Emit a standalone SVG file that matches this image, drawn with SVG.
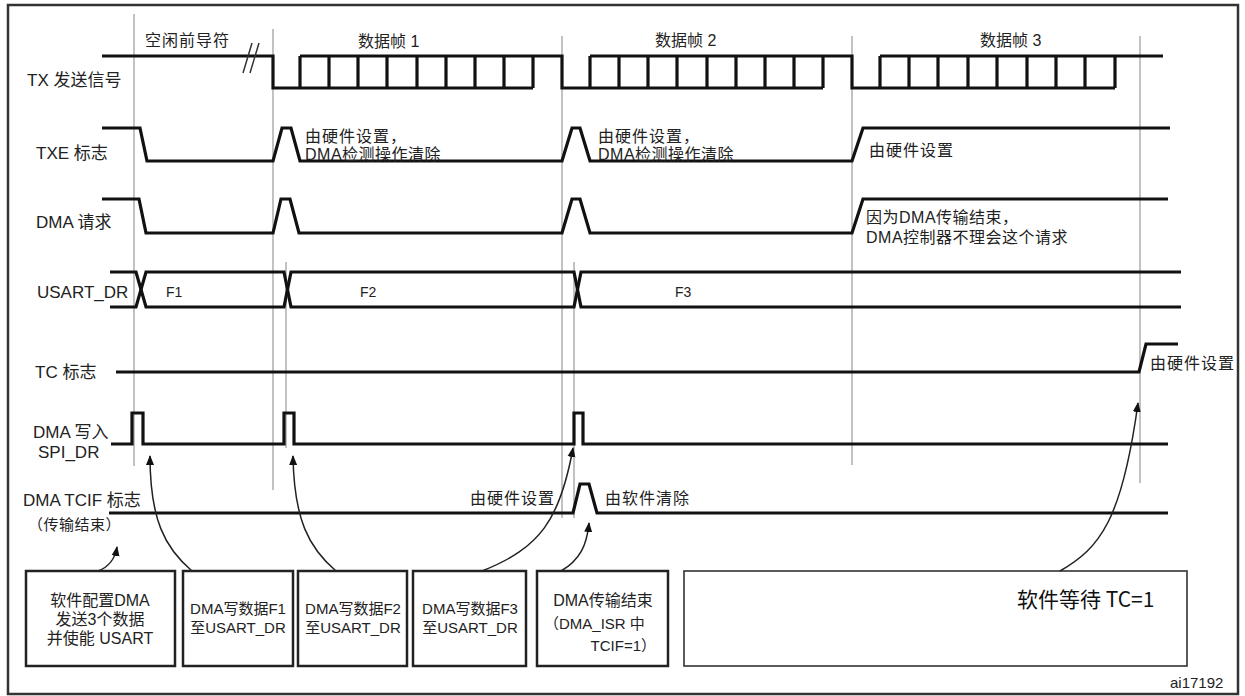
<svg xmlns="http://www.w3.org/2000/svg" width="1245" height="696" viewBox="0 0 1245 696">
<defs>
<style>
text{font-family:"Liberation Sans","Noto Sans CJK SC",sans-serif;fill:#222;font-size:16px}
.lbl{font-size:17px}
.sm{font-size:15px}
.f{font-size:14px}
.big{font-family:"Noto Sans CJK SC",sans-serif;font-size:21px;fill:#111}
.sig{fill:none;stroke:#111;stroke-width:3.2;stroke-linejoin:miter}
.grid{stroke:#999;stroke-width:1.2}
.box{fill:none;stroke:#222;stroke-width:2.5}
.arr{fill:none;stroke:#222;stroke-width:1.5;marker-end:url(#ah)}
</style>
<marker id="ah" markerWidth="10" markerHeight="10" refX="9" refY="5" orient="auto" markerUnits="userSpaceOnUse">
<path d="M0,1 L10,5 L0,9 Z" fill="#111"/>
</marker>
</defs>
<rect x="0" y="0" width="1245" height="696" fill="#fff"/>
<rect x="8" y="5" width="1230" height="689" fill="none" stroke="#333" stroke-width="2.5"/>

<g id="gridlines">
<line class="grid" x1="134" y1="14" x2="134" y2="466"/>
<line class="grid" x1="273" y1="29" x2="273" y2="490"/>
<line class="grid" x1="286" y1="262" x2="286" y2="448"/>
<line class="grid" x1="562" y1="36" x2="562" y2="518"/>
<line class="grid" x1="574" y1="262" x2="574" y2="518"/>
<line class="grid" x1="852" y1="36" x2="852" y2="465"/>
<line class="grid" x1="1140" y1="36" x2="1140" y2="483"/>
</g>

<g id="headers">
<text x="145" y="46" letter-spacing="1">空闲前导符</text>
<text x="358" y="47">数据帧 1</text>
<text x="655" y="46">数据帧 2</text>
<text x="980" y="46">数据帧 3</text>
</g>

<g id="tx">
<text class="lbl" x="27" y="86">TX 发送信号</text>
<path class="sig" d="M102,56 H273 V88 H533 M300,56 H562 V88 H823 M590,56 H852 V88 H1115 M880,56 H1163"/>
<path class="sig" d="M300,56 V88 M329,56 V88 M358,56 V88 M387,56 V88 M417,56 V88 M446,56 V88 M475,56 V88 M504,56 V88 M533,56 V88
M590,56 V88 M619,56 V88 M648,56 V88 M677,56 V88 M707,56 V88 M736,56 V88 M765,56 V88 M794,56 V88 M823,56 V88
M880,56 V88 M909,56 V88 M938,56 V88 M968,56 V88 M997,56 V88 M1027,56 V88 M1056,56 V88 M1085,56 V88 M1115,56 V88"/>
<path d="M243,73 L252,43 M250,73 L259,43" stroke="#333" stroke-width="1.5" fill="none"/>
</g>

<g id="txe">
<text class="lbl" x="36" y="159">TXE 标志</text>
<path class="sig" d="M102,128 H140 L147,161 H273 L282,128 H291 L300,161 H562 L572,128 H580 L590,161 H852 L863,128 H1170"/>
<text x="305" y="142" letter-spacing="1">由硬件设置，</text>
<text x="305" y="160" letter-spacing="0.5">DMA检测操作清除</text>
<text x="598" y="142" letter-spacing="1">由硬件设置，</text>
<text x="598" y="160" letter-spacing="0.5">DMA检测操作清除</text>
<text x="869" y="156" letter-spacing="1">由硬件设置</text>
</g>

<g id="dmareq">
<text class="lbl" x="36" y="228">DMA 请求</text>
<path class="sig" d="M102,199 H139 L146,233 H273 L281,199 H290 L299,233 H562 L572,199 H580 L590,233 H852 L863,199 H1168"/>
<text x="866" y="223" letter-spacing="0.5">因为DMA传输结束，</text>
<text x="866" y="243" letter-spacing="0.5">DMA控制器不理会这个请求</text>
</g>

<g id="usartdr">
<text class="lbl" x="37" y="298">USART_DR</text>
<path class="sig" d="M110,272 H136 L146,307 H284 L291,272 H574 L581,307 H1181"/>
<path class="sig" d="M110,307 H136 L146,272 H284 L291,307 H574 L581,272 H1181"/>
<text class="f" x="166" y="297">F1</text>
<text class="f" x="360" y="297">F2</text>
<text class="f" x="675" y="297">F3</text>
</g>

<g id="tc">
<text class="lbl" x="35" y="378">TC 标志</text>
<path class="sig" d="M116,372 H1139 L1146,344 H1178"/>
<text x="1150" y="369" letter-spacing="1">由硬件设置</text>
</g>

<g id="dmawrite">
<text class="lbl" x="33" y="438">DMA 写入</text>
<text class="lbl" x="38" y="458">SPI_DR</text>
<path class="sig" d="M111,444 H132 V413 H143 V444 H284 V413 H294 V444 H574 V413 H583 V444 H1168"/>
</g>

<g id="tcif">
<text class="lbl" x="23" y="506">DMA TCIF 标志</text>
<text class="sm" x="28" y="530" letter-spacing="0.5">（传输结束）</text>
<path class="sig" d="M109,513 H573 L580,484 H589 L597,513 H1168"/>
<text x="470" y="504" letter-spacing="1">由硬件设置</text>
<text x="605" y="504" letter-spacing="1">由软件清除</text>
</g>

<g id="box1">
<rect class="box" x="26" y="571" width="149" height="95"/>
<text x="100" y="606" text-anchor="middle">软件配置DMA</text>
<text x="100" y="625" text-anchor="middle">发送3个数据</text>
<text x="100" y="644" text-anchor="middle">并使能 USART</text>
</g>
<g id="box2">
<rect class="box" x="183" y="571" width="110" height="95"/>
<text class="sm" x="238" y="614" text-anchor="middle">DMA写数据F1</text>
<text class="sm" x="238" y="633" text-anchor="middle">至USART_DR</text>
</g>
<g id="box3">
<rect class="box" x="298" y="571" width="109" height="95"/>
<text class="sm" x="353" y="614" text-anchor="middle">DMA写数据F2</text>
<text class="sm" x="353" y="633" text-anchor="middle">至USART_DR</text>
</g>
<g id="box4">
<rect class="box" x="413" y="571" width="113" height="95"/>
<text class="sm" x="470" y="614" text-anchor="middle">DMA写数据F3</text>
<text class="sm" x="470" y="633" text-anchor="middle">至USART_DR</text>
</g>
<g id="box5">
<rect class="box" x="537" y="571" width="131" height="95"/>
<text x="603" y="606" text-anchor="middle">DMA传输结束</text>
<text class="sm" x="544" y="629">（DMA_ISR 中</text>
<text class="sm" x="656" y="651" text-anchor="end">TCIF=1）</text>
</g>
<g id="box6">
<rect x="684" y="571" width="503" height="95" fill="none" stroke="#333" stroke-width="1.6"/>
<text class="big" x="1017" y="607">软件等待 TC=1</text>
</g>

<g id="connectors">
<path class="arr" d="M98,571 Q114,565 117,547"/>
<path class="arr" d="M192,571 C165,548 150,520 150,456"/>
<path class="arr" d="M336,571 C309,548 294,520 293,456"/>
<path class="arr" d="M482,571 C540,548 560,520 573,448"/>
<path class="arr" d="M561,571 C580,560 587,545 589,523"/>
<path class="arr" d="M1060,571 C1100,548 1122,520 1138,403"/>
</g>

<text class="sm" x="1170" y="688">ai17192</text>
</svg>
